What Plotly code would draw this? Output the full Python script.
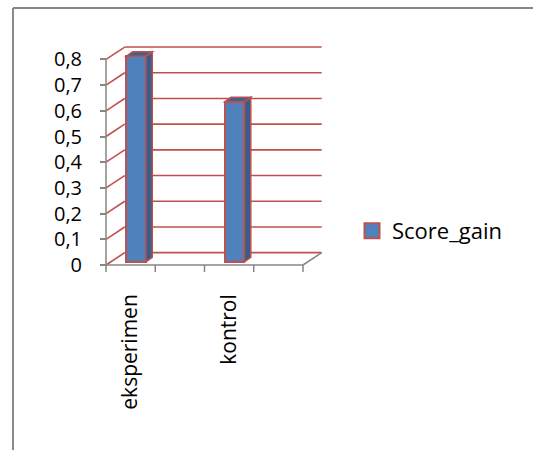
import plotly.graph_objects as go

# Data
categories = ["eksperimen", "", "kontrol", ""]
score_gain = [0.80, None, 0.623, None]
y_ticks = [0, 0.1, 0.2, 0.3, 0.4, 0.5, 0.6, 0.7, 0.8]
y_tick_text = ["0", "0,1", "0,2", "0,3", "0,4", "0,5", "0,6", "0,7", "0,8"]

W, H = 533, 450
RED = "#C0504D"
GRAY = "#868686"
BLUE = "#4F81BD"
SIDE = "#385D8A"
TOPC = "#3D6391"

# pseudo-3D geometry (data units)
DX, DY = 0.38, 0.048        # wall depth offset
BDX, BDY = 0.13, 0.0175     # bar depth offset
BASE = 0.012                # bar front sits slightly above the floor edge
BAR_W = 0.4
BAR_OFF = 0.61              # bar centre inside its slot

n = len(categories)
xs = [i + BAR_OFF for i in range(n)]

fig = go.Figure()

fig.add_trace(go.Bar(
    x=xs, y=score_gain, base=BASE, width=BAR_W,
    marker=dict(color=BLUE, line=dict(color=RED, width=2)),
    showlegend=False, hoverinfo="skip",
))
fig.add_trace(go.Scatter(
    x=[None], y=[None], mode="markers", name="Score_gain",
    marker=dict(symbol="square", size=15, color=BLUE,
                line=dict(color=RED, width=2)),
))

shapes = []
# back wall gridlines and their diagonal ties to the value axis
for v in y_ticks:
    shapes.append(dict(type="line", xref="x", yref="y", x0=DX, y0=v + DY,
                       x1=n + DX, y1=v + DY, layer="below",
                       line=dict(color=RED, width=1.6)))
    shapes.append(dict(type="line", xref="x", yref="y", x0=0, y0=v,
                       x1=DX, y1=v + DY, layer="below",
                       line=dict(color=RED, width=1.6)))
# value axis line
shapes.append(dict(type="line", xref="x", yref="y", x0=0, y0=0, x1=0,
                   y1=max(y_ticks), line=dict(color=GRAY, width=1.5)))
# floor front edge, right edge and category tick marks
shapes.append(dict(type="line", xref="x", yref="y", x0=0, y0=0, x1=n, y1=0,
                   line=dict(color=GRAY, width=1.5)))
shapes.append(dict(type="line", xref="x", yref="y", x0=n, y0=0, x1=n + DX,
                   y1=DY, line=dict(color=GRAY, width=1.5)))
for i in range(n + 1):
    shapes.append(dict(type="line", xref="x", yref="y", x0=i, y0=0, x1=i,
                       y1=-0.027, line=dict(color=GRAY, width=1.5)))

# side and top faces of each bar
for x, v in zip(xs, score_gain):
    if v is None:
        continue
    x0, x1 = x - BAR_W / 2, x + BAR_W / 2
    top = BASE + v
    side = (f"M {x1} {BASE} L {x1 + BDX} {BASE + BDY} L {x1 + BDX} {top + BDY} "
            f"L {x1} {top} Z")
    cap = (f"M {x0} {top} L {x0 + BDX} {top + BDY} L {x1 + BDX} {top + BDY} "
           f"L {x1} {top} Z")
    shapes.append(dict(type="path", xref="x", yref="y", path=side,
                       fillcolor=SIDE, line=dict(color=RED, width=1.5)))
    shapes.append(dict(type="path", xref="x", yref="y", path=cap,
                       fillcolor=TOPC, line=dict(color=RED, width=1.5)))

# chart frame (left and top edges)
fx, fy = 13 / W, 1 - 8 / H
shapes.append(dict(type="line", xref="paper", yref="paper", x0=fx, y0=0,
                   x1=fx, y1=fy, line=dict(color="#888888", width=2)))
shapes.append(dict(type="line", xref="paper", yref="paper", x0=fx, y0=fy,
                   x1=1, y1=fy, line=dict(color="#888888", width=2)))

px_per_x = 49.25
px_per_y = 257.0
x_origin, y_origin = 106.0, 265.0

fig.update_layout(
    width=W, height=H,
    margin=dict(l=0, r=0, t=0, b=0),
    paper_bgcolor="white", plot_bgcolor="white",
    font=dict(family="Open Sans", size=21, color="black"),
    shapes=shapes,
    bargap=0,
    xaxis=dict(
        range=[-x_origin / px_per_x, (W - x_origin) / px_per_x],
        domain=[0, 1], anchor="free", position=1 - 289 / H,
        tickmode="array",
        tickvals=[i + 0.5 for i, c in enumerate(categories) if c],
        ticktext=[c for c in categories if c],
        tickangle=-90, ticks="", showgrid=False, zeroline=False,
        showline=False, tickfont=dict(size=21),
    ),
    yaxis=dict(
        range=[(y_origin - H) / px_per_y, y_origin / px_per_y],
        domain=[0, 1], anchor="free", position=x_origin / W,
        tickmode="array", tickvals=y_ticks, ticktext=y_tick_text,
        ticks="outside", ticklen=6, tickwidth=1.5, tickcolor=GRAY,
        ticklabelstandoff=14,
        showgrid=False, zeroline=False, showline=False,
        tickfont=dict(size=20),
    ),
    legend=dict(x=352 / W, y=1 - 231 / H, xanchor="left", yanchor="middle",
                font=dict(size=22), bgcolor="rgba(0,0,0,0)"),
)

fig.write_html("out.html")
